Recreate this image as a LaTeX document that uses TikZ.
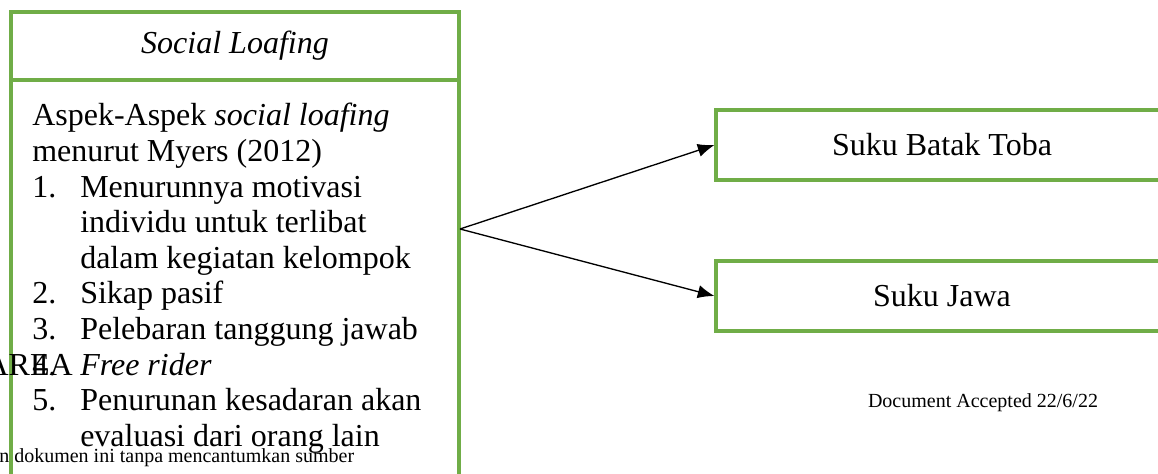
\documentclass[tikz,border=0pt]{standalone}
\usepackage{fontspec}
\setmainfont{Liberation Serif}
\usetikzlibrary{arrows.meta}
\definecolor{hijau}{RGB}{112,173,71}

\begin{document}
\begin{tikzpicture}[x=0.75pt,y=-0.75pt,
    kotak/.style={
      rectangle,
      draw=hijau,
      line width=2.3pt,
      inner sep=0pt,
      font=\fontsize{24}{28}\selectfont},
    baris/.style={
      anchor=base west,
      inner sep=0pt,
      font=\fontsize{24}{28}\selectfont},
    kecil/.style={
      anchor=base west,
      inner sep=0pt,
      font=\fontsize{15}{18}\selectfont},
    panah/.style={
      -{Latex[length=12.5pt,width=10pt]},
      line width=1pt}
    ]

  \useasboundingbox (0,0) rectangle (1158,474);

  \node at (235,46) (judul) [kotak, minimum width=336pt, minimum height=51pt] {\textit{Social Loafing}};
  \node at (235,290) (isi) [kotak, minimum width=336pt, minimum height=315pt] {};

  \node at (942,145) (batak) [kotak, minimum width=339pt, minimum height=52.5pt] {Suku Batak Toba};
  \node at (942,296) (jawa) [kotak, minimum width=339pt, minimum height=52.5pt] {Suku Jawa};

  % isi kotak kiri, baris demi baris
  \foreach \bx/\by/\teks [count=\i] in {
      32/0/{Aspek-Aspek \textit{social loafing}},
      32/1/{menurut Myers (2012)},
      32/2/{1.}, 80/2/{Menurunnya motivasi},
      80/3/{individu untuk terlibat},
      80/4/{dalam kegiatan kelompok},
      32/5/{2.}, 80/5/{Sikap pasif},
      32/6/{3.}, 80/6/{Pelebaran tanggung jawab},
      32/7/{4.}, 80/7/{\textit{Free rider}},
      32/8/{5.}, 80/8/{Penurunan kesadaran akan},
      80/9/{evaluasi dari orang lain}}
    \node[baris] (baris\i) at (\bx,126+35.6*\by) {\teks};

  \node[baris, anchor=base east] (area) at (73,375) {AREA};

  \coordinate (pangkal) at (460,229);
  \draw[panah] (pangkal) -- (batak.west);
  \draw[panah] (pangkal) -- (jawa.west);

  \node[kecil, anchor=base] (terima) at (983,407) {Document Accepted 22/6/22};
  \node[kecil] (sumber) at (-1,462) {n dokumen ini tanpa mencantumkan sumber};

\end{tikzpicture}
\end{document}
